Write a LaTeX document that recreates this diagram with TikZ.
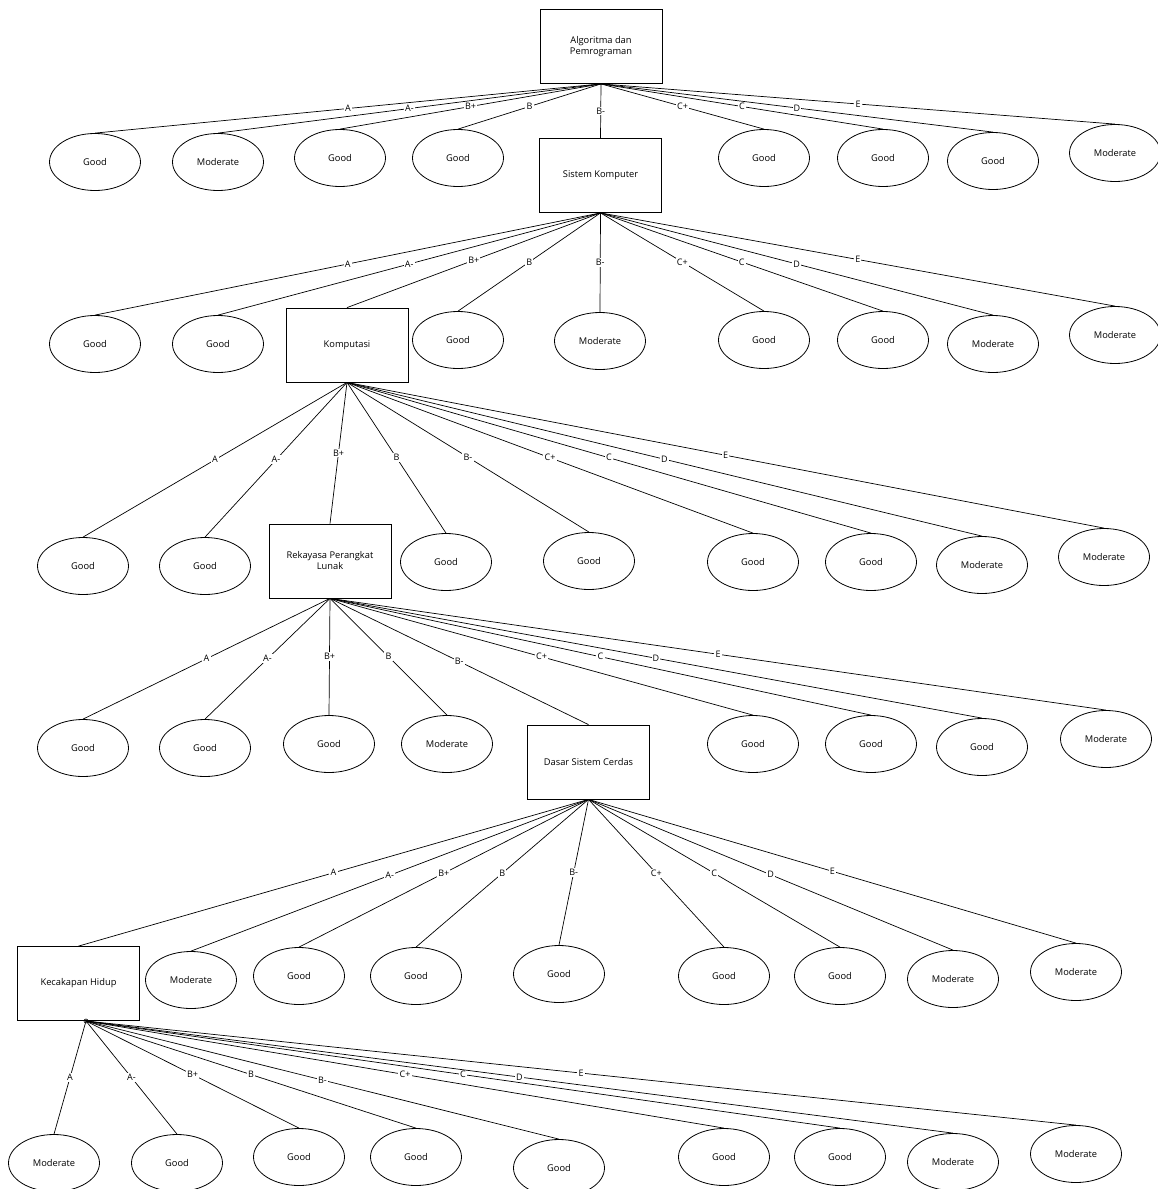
\documentclass[tikz,border=0pt]{standalone}
\usepackage{fontspec}
\setmainfont{Open Sans}
\usetikzlibrary{shapes.geometric}
\begin{document}
\begin{tikzpicture}[x=1pt,y=-1pt,
  every node/.style={font=\fontsize{9.3}{11}\selectfont},
  leaf/.style={ellipse,draw,line width=0.8pt,minimum width=91pt,minimum height=57pt,inner sep=0pt},
  topic/.style={rectangle,draw,line width=0.8pt,minimum width=122pt,minimum height=74pt,align=center,inner sep=1pt},
  link/.style={line width=0.7pt},
  grade/.style={fill=white,inner sep=1.2pt,font=\fontsize{9}{10}\selectfont}]
\useasboundingbox (0,0) rectangle (1158,1189);
\clip (0,0) rectangle (1158,1189);

% ---------- level 0
\node[topic] (r0) at (601,46.5) {Algoritma dan\\Pemrograman};

% ---------- level 1
\node[leaf] (a1) at (95,162) {Good};
\node[leaf] (b1) at (218,162) {Moderate};
\node[leaf] (c1) at (340,158) {Good};
\node[leaf] (d1) at (458,158) {Good};
\node[topic] (r1) at (600.5,175.5) {Sistem Komputer};
\node[leaf] (f1) at (764,158) {Good};
\node[leaf] (g1) at (883,158) {Good};
\node[leaf] (h1) at (993,161) {Good};
\node[leaf] (i1) at (1115,153) {Moderate};

% ---------- level 2
\node[leaf] (a2) at (95,344) {Good};
\node[leaf] (b2) at (218,344) {Good};
\node[topic] (r2) at (347,345) {Komputasi};
\node[leaf] (d2) at (458,340) {Good};
\node[leaf] (e2) at (600,341) {Moderate};
\node[leaf] (f2) at (764,340) {Good};
\node[leaf] (g2) at (883,340) {Good};
\node[leaf] (h2) at (993,344) {Moderate};
\node[leaf] (i2) at (1115,335) {Moderate};

% ---------- level 3
\node[leaf] (a3) at (83,566) {Good};
\node[leaf] (b3) at (205,566) {Good};
\node[topic] (r3) at (330,561) {Rekayasa Perangkat\\Lunak};
\node[leaf] (d3) at (446,562) {Good};
\node[leaf] (e3) at (589,561) {Good};
\node[leaf] (f3) at (753,562) {Good};
\node[leaf] (g3) at (871,562) {Good};
\node[leaf] (h3) at (982,565) {Moderate};
\node[leaf] (i3) at (1104,557) {Moderate};

% ---------- level 4
\node[leaf] (a4) at (83,748) {Good};
\node[leaf] (b4) at (205,748) {Good};
\node[leaf] (c4) at (329,744) {Good};
\node[leaf] (d4) at (447,744) {Moderate};
\node[topic] (r4) at (588.5,762) {Dasar Sistem Cerdas};
\node[leaf] (f4) at (753,744) {Good};
\node[leaf] (g4) at (871,744) {Good};
\node[leaf] (h4) at (982,747) {Good};
\node[leaf] (i4) at (1106,739) {Moderate};

% ---------- level 5
\node[topic] (r5) at (78.5,983.5) {Kecakapan Hidup};
\node[leaf] (b5) at (191,980) {Moderate};
\node[leaf] (c5) at (299,976) {Good};
\node[leaf] (d5) at (416,976) {Good};
\node[leaf] (e5) at (559,974) {Good};
\node[leaf] (f5) at (724,976) {Good};
\node[leaf] (g5) at (840,976) {Good};
\node[leaf] (h5) at (953,979) {Moderate};
\node[leaf] (i5) at (1076,972) {Moderate};
\node[circle,draw,line width=0.6pt,inner sep=0pt,minimum size=4pt] (k5) at (86,1021) {};

% ---------- level 6
\node[leaf] (a6) at (54,1163) {Moderate};
\node[leaf] (b6) at (177,1163) {Good};
\node[leaf] (c6) at (299,1157) {Good};
\node[leaf] (d6) at (416,1157) {Good};
\node[leaf] (e6) at (559,1168) {Good};
\node[leaf] (f6) at (724,1157) {Good};
\node[leaf] (g6) at (840,1157) {Good};
\node[leaf] (h6) at (953,1162) {Moderate};
\node[leaf] (i6) at (1076,1154) {Moderate};

% ---------- connectors
\foreach \p/\a/\b/\c/\d/\e/\f/\g/\h/\i in {
  r0.south/a1/b1/c1/d1/r1/f1/g1/h1/i1,
  r1.south/a2/b2/r2/d2/e2/f2/g2/h2/i2,
  r2.south/a3/b3/r3/d3/e3/f3/g3/h3/i3,
  r3.south/a4/b4/c4/d4/r4/f4/g4/h4/i4,
  r4.south/r5/b5/c5/d5/e5/f5/g5/h5/i5,
  k5.center/a6/b6/c6/d6/e6/f6/g6/h6/i6}{
  \draw[link] (\p) -- node[grade]{A} (\a.north);
  \draw[link] (\p) -- node[grade]{A-} (\b.north);
  \draw[link] (\p) -- node[grade]{B+} (\c.north);
  \draw[link] (\p) -- node[grade]{B} (\d.north);
  \draw[link] (\p) -- node[grade]{B-} (\e.north);
  \draw[link] (\p) -- node[grade]{C+} (\f.north);
  \draw[link] (\p) -- node[grade]{C} (\g.north);
  \draw[link] (\p) -- node[grade]{D} (\h.north);
  \draw[link] (\p) -- node[grade]{E} (\i.north);
}
\end{tikzpicture}
\end{document}
